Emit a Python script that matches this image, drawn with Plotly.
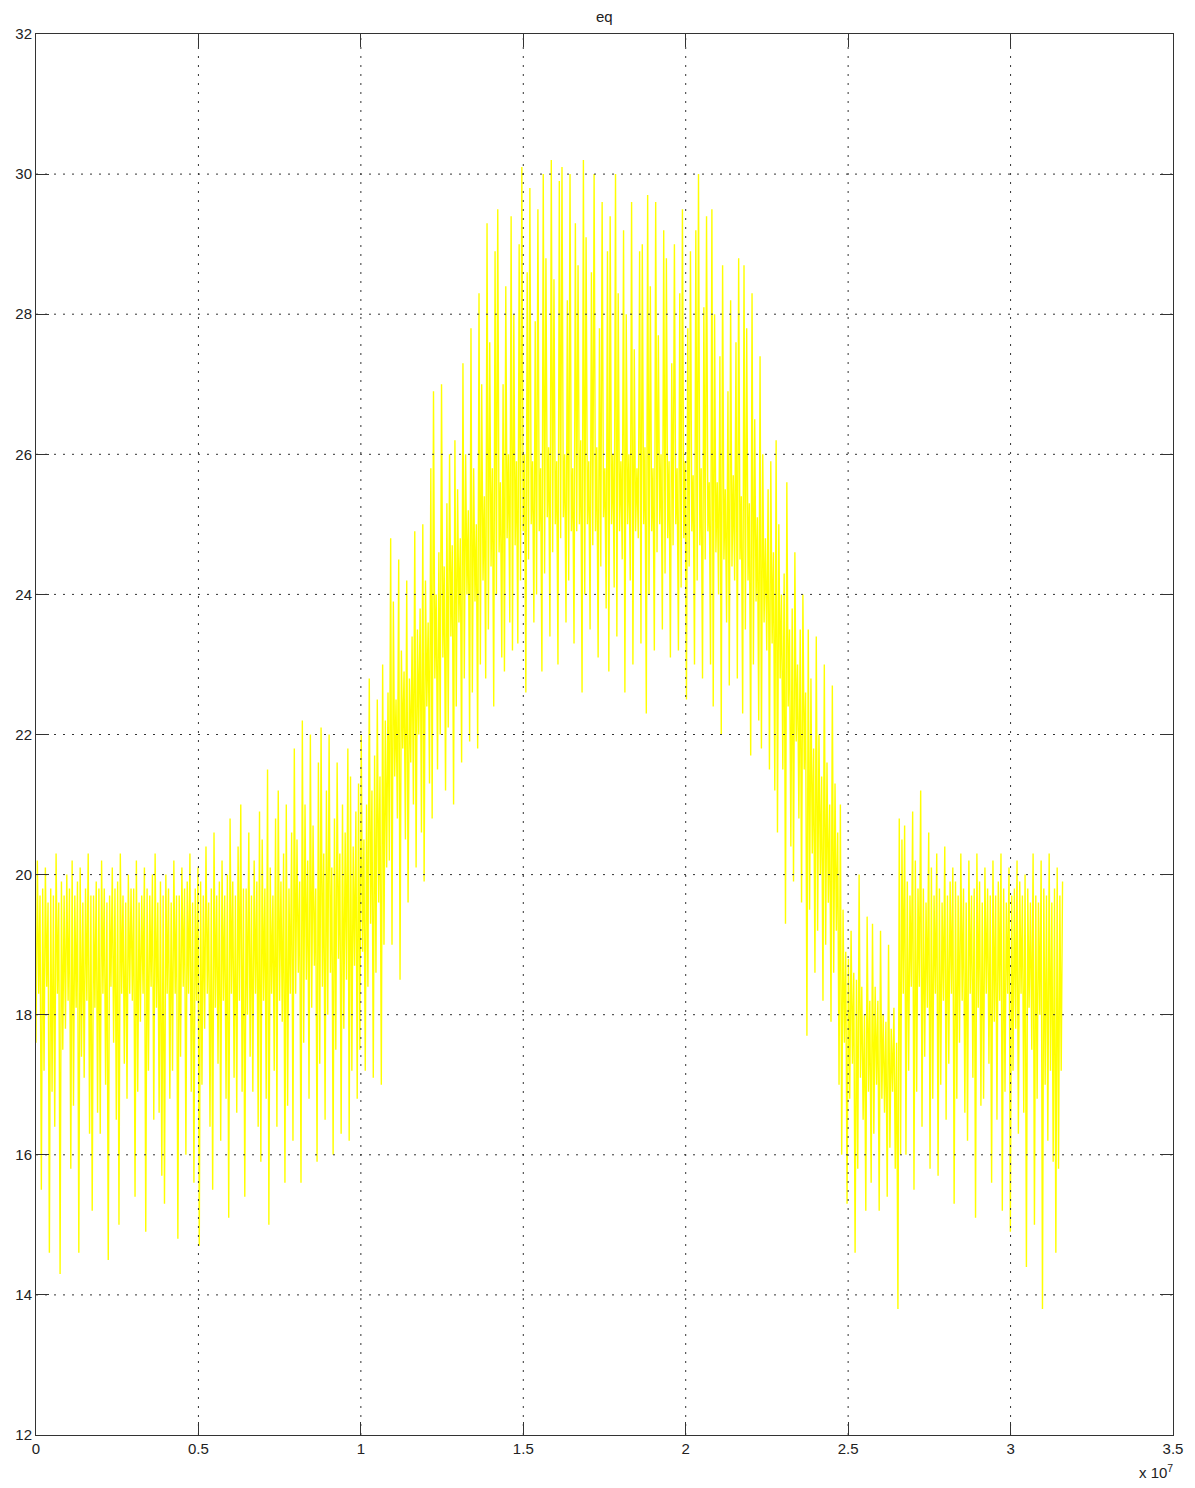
import numpy as np
import plotly.graph_objects as go

# ---- data (eq signal), 32 consecutive blocks of 24 samples ----
t_start = 0.0
t_end = 3.16e7

eq_block_00 = [17.6, 20.2, 18.3, 19.7, 15.5, 19.8, 17.2, 20.1, 18.4, 19.6, 14.6, 19.8, 16.9, 19.7, 16.4, 20.3, 18.3, 19.6, 14.3, 19.9, 17.5, 19.7, 17.8, 20.0]
eq_block_01 = [18.2, 19.8, 15.8, 20.2, 16.7, 19.7, 18.1, 19.9, 14.6, 20.1, 17.4, 19.6, 17.1, 19.8, 18.2, 20.3, 16.3, 19.7, 15.2, 19.7, 18.1, 19.9, 16.6, 19.8]
eq_block_02 = [16.3, 20.2, 18.3, 19.8, 17.0, 19.6, 14.5, 19.7, 18.4, 20.1, 17.6, 19.8, 16.5, 19.9, 15.0, 20.3, 18.3, 19.7, 17.3, 19.6, 16.8, 20.0, 18.3, 19.8]
eq_block_03 = [18.2, 19.8, 15.4, 20.2, 16.9, 19.6, 17.9, 19.7, 18.3, 20.1, 14.9, 19.8, 17.2, 19.7, 18.4, 20.0, 16.5, 20.3, 18.1, 19.6, 16.6, 19.9, 15.7, 19.7]
eq_block_04 = [15.3, 20.0, 18.3, 19.8, 16.8, 19.6, 17.2, 20.2, 18.3, 19.7, 14.8, 19.7, 17.4, 20.1, 18.4, 19.8, 16.0, 19.9, 18.3, 20.3, 16.9, 19.6, 15.6, 19.8]
eq_block_05 = [18.2, 20.1, 14.7, 19.9, 17.0, 19.7, 17.8, 20.4, 18.3, 19.6, 16.4, 19.8, 15.5, 20.6, 18.1, 19.7, 17.3, 19.9, 16.2, 20.2, 18.2, 19.7, 16.8, 20.0]
eq_block_06 = [15.1, 20.8, 18.3, 19.9, 17.1, 19.7, 16.6, 20.4, 18.2, 21.0, 16.9, 19.8, 15.4, 19.8, 18.0, 20.6, 17.4, 19.7, 16.9, 20.2, 18.3, 19.9, 16.4, 20.9]
eq_block_07 = [15.9, 20.5, 18.2, 19.8, 16.8, 21.5, 15.0, 20.1, 18.3, 19.7, 17.2, 20.8, 16.4, 21.2, 18.2, 19.9, 17.9, 20.3, 15.6, 21.0, 16.7, 19.8, 18.3, 20.6]
eq_block_08 = [16.2, 21.8, 18.3, 20.5, 18.6, 19.9, 15.6, 22.2, 17.6, 21.0, 18.5, 20.2, 16.8, 22.0, 18.1, 20.7, 18.7, 19.8, 15.9, 21.6, 17.3, 22.1, 18.4, 20.3]
eq_block_09 = [16.5, 21.2, 18.0, 22.0, 18.6, 20.1, 16.0, 20.8, 17.5, 21.6, 18.8, 20.3, 16.3, 21.0, 17.8, 20.6, 18.5, 21.8, 16.2, 21.4, 17.2, 20.4, 18.7, 20.9]
eq_block_10 = [16.8, 21.3, 17.5, 22.0, 18.9, 20.5, 17.2, 21.0, 18.4, 22.8, 19.3, 21.2, 17.1, 21.7, 18.6, 22.5, 19.6, 21.4, 17.0, 23.0, 19.0, 22.2, 20.1, 22.6]
eq_block_11 = [20.2, 24.8, 19.0, 23.9, 21.4, 22.5, 20.8, 24.5, 18.5, 23.2, 21.8, 22.9, 20.5, 24.2, 19.6, 22.8, 21.6, 23.4, 21.0, 24.9, 20.1, 23.5, 22.0, 23.8]
eq_block_12 = [20.6, 25.0, 19.9, 24.2, 22.4, 23.6, 21.3, 25.8, 20.8, 26.9, 22.8, 24.0, 21.5, 24.6, 22.0, 27.0, 23.1, 24.4, 21.2, 25.3, 22.1, 26.0, 23.4, 24.7]
eq_block_13 = [21.0, 26.2, 22.4, 25.5, 23.6, 24.8, 21.6, 27.3, 22.8, 26.0, 24.0, 25.2, 21.9, 27.8, 22.6, 25.8, 23.9, 25.0, 21.8, 28.3, 23.0, 27.0, 24.2, 25.4]
eq_block_14 = [22.8, 29.3, 23.5, 27.6, 24.4, 25.8, 22.4, 28.9, 24.0, 29.5, 24.6, 25.6, 23.1, 27.0, 22.9, 28.4, 24.8, 26.0, 23.6, 29.4, 23.2, 28.0, 24.7, 25.9]
eq_block_15 = [23.3, 29.0, 24.2, 30.1, 24.9, 26.0, 22.6, 28.6, 24.5, 29.8, 25.0, 25.9, 23.6, 27.9, 24.0, 29.5, 24.9, 25.8, 22.9, 30.0, 24.3, 28.8, 25.1, 26.1]
eq_block_16 = [23.4, 30.2, 24.6, 28.5, 25.0, 25.9, 23.0, 29.9, 24.8, 30.1, 25.1, 26.0, 23.6, 28.2, 24.2, 30.0, 24.9, 25.8, 23.3, 29.3, 24.9, 28.7, 25.0, 26.2]
eq_block_17 = [22.6, 30.2, 24.0, 29.1, 25.0, 25.9, 23.5, 28.6, 24.7, 30.0, 24.9, 26.1, 23.1, 27.8, 24.4, 29.6, 25.1, 25.8, 23.8, 28.9, 22.9, 29.4, 25.0, 26.0]
eq_block_18 = [24.1, 30.0, 23.4, 28.3, 24.9, 25.9, 24.5, 29.2, 22.6, 28.0, 25.0, 26.0, 24.2, 29.6, 23.0, 27.5, 24.9, 25.8, 24.8, 28.9, 23.3, 29.0, 25.0, 26.1]
eq_block_19 = [22.3, 29.7, 24.0, 28.4, 24.9, 25.8, 23.2, 29.6, 24.6, 27.7, 25.0, 26.0, 23.5, 29.2, 24.3, 28.8, 24.8, 25.9, 23.1, 27.3, 24.7, 29.0, 25.0, 25.8]
eq_block_20 = [23.2, 28.3, 24.1, 29.5, 24.8, 25.9, 22.5, 27.8, 24.4, 28.9, 24.9, 25.7, 23.0, 29.2, 24.2, 30.0, 24.7, 25.8, 22.8, 28.1, 24.5, 29.4, 24.9, 25.6]
eq_block_21 = [23.0, 29.5, 22.4, 28.0, 24.6, 25.6, 24.0, 27.4, 22.0, 28.7, 24.5, 25.5, 23.6, 26.9, 22.7, 28.2, 24.4, 25.7, 24.2, 27.6, 22.8, 28.8, 24.5, 25.4]
eq_block_22 = [22.3, 28.7, 23.5, 27.8, 24.2, 25.3, 21.7, 28.3, 23.0, 26.5, 23.9, 25.1, 22.2, 27.4, 21.8, 26.0, 23.6, 24.8, 23.2, 25.5, 21.5, 25.9, 23.3, 24.6]
eq_block_23 = [21.2, 26.2, 20.6, 25.0, 22.8, 24.0, 21.5, 24.3, 19.3, 25.6, 22.4, 23.5, 20.4, 23.8, 19.9, 24.6, 21.9, 23.0, 20.8, 23.5, 19.6, 24.0, 21.5, 22.6]
eq_block_24 = [17.7, 23.5, 19.5, 22.8, 20.3, 21.8, 18.6, 23.4, 19.2, 22.0, 20.0, 21.4, 18.2, 23.0, 19.0, 21.6, 19.6, 21.0, 17.9, 22.7, 18.6, 21.3, 19.2, 20.6]
eq_block_25 = [17.0, 21.0, 16.0, 19.5, 17.6, 18.9, 15.3, 18.8, 16.8, 19.2, 17.3, 18.6, 14.6, 18.5, 15.8, 20.0, 17.1, 18.4, 16.5, 18.0, 15.2, 19.4, 16.9, 18.2]
eq_block_26 = [15.6, 19.3, 16.3, 18.4, 17.0, 18.2, 15.2, 19.2, 16.8, 18.0, 16.6, 17.9, 15.4, 19.0, 16.1, 17.8, 16.9, 18.1, 15.8, 17.6, 13.8, 20.8, 16.0, 20.5]
eq_block_27 = [18.3, 20.7, 16.0, 19.9, 17.2, 19.7, 18.4, 20.9, 15.5, 20.2, 16.9, 19.8, 18.4, 21.2, 16.4, 19.8, 17.4, 19.6, 18.1, 20.6, 15.8, 20.1, 16.8, 19.7]
eq_block_28 = [18.3, 20.3, 15.7, 19.8, 17.0, 19.6, 18.2, 20.4, 16.5, 19.7, 17.3, 19.9, 18.3, 20.1, 15.3, 19.9, 16.8, 19.7, 17.6, 20.3, 18.2, 19.8, 16.6, 19.6]
eq_block_29 = [16.2, 20.2, 18.3, 19.7, 17.1, 19.8, 15.1, 20.3, 18.1, 19.9, 16.7, 19.6, 16.8, 20.1, 18.3, 19.8, 17.3, 19.7, 15.6, 20.2, 17.9, 19.7, 16.5, 19.9]
eq_block_30 = [18.2, 20.3, 15.2, 19.8, 16.9, 19.6, 18.3, 20.1, 14.9, 19.7, 17.2, 19.8, 17.8, 20.2, 16.3, 19.9, 18.3, 19.7, 16.6, 20.0, 14.4, 19.8, 18.1, 19.6]
eq_block_31 = [17.5, 20.3, 15.0, 19.7, 16.8, 19.6, 18.0, 20.2, 13.8, 19.8, 17.0, 19.7, 16.2, 20.3, 17.2, 19.6, 15.9, 19.8, 14.6, 20.1, 15.8, 19.7, 17.2, 19.9]

x_tick_vals = [0, 0.5e7, 1.0e7, 1.5e7, 2.0e7, 2.5e7, 3.0e7, 3.5e7]
x_tick_text = ["0", "0.5", "1", "1.5", "2", "2.5", "3", "3.5"]
y_tick_vals = [12, 14, 16, 18, 20, 22, 24, 26, 28, 30, 32]
y_tick_text = [str(v) for v in y_tick_vals]
title_text = "eq"
exponent_text = "x 10<sup>7</sup>"

blocks = [eq_block_00, eq_block_01, eq_block_02, eq_block_03, eq_block_04, eq_block_05,
          eq_block_06, eq_block_07, eq_block_08, eq_block_09, eq_block_10, eq_block_11,
          eq_block_12, eq_block_13, eq_block_14, eq_block_15, eq_block_16, eq_block_17,
          eq_block_18, eq_block_19, eq_block_20, eq_block_21, eq_block_22, eq_block_23,
          eq_block_24, eq_block_25, eq_block_26, eq_block_27, eq_block_28, eq_block_29,
          eq_block_30, eq_block_31]
eq = [v for b in blocks for v in b]
t = np.linspace(t_start, t_end, len(eq))

FONT = "Liberation Sans, Arial, Helvetica, sans-serif"
TXT = "#222222"
AX = "#333333"
GRID = "#333333"

fig = go.Figure()
fig.add_trace(go.Scatter(x=t, y=eq, mode="lines",
                         line=dict(color="#ffff00", width=1.4), showlegend=False,
                         hoverinfo="skip"))

# dotted grid drawn above the data (as in the reference)
shapes = []
for xv in x_tick_vals[1:-1]:
    shapes.append(dict(type="line", xref="x", yref="paper", x0=xv, x1=xv, y0=0, y1=1,
                       line=dict(color=GRID, width=1, dash="2px,7px"), layer="above"))
for yv in y_tick_vals[1:-1]:
    shapes.append(dict(type="line", xref="paper", yref="y", x0=0, x1=1, y0=yv, y1=yv,
                       line=dict(color=GRID, width=1, dash="2px,7px"), layer="above"))

fig.update_layout(
    width=1195, height=1488,
    margin=dict(l=36, r=19, t=34, b=53),
    paper_bgcolor="white", plot_bgcolor="white",
    font=dict(family=FONT, size=15, color=TXT),
    shapes=shapes,
    annotations=[
        dict(text=title_text, xref="paper", yref="paper", x=0.5, y=1, xanchor="center",
             yanchor="bottom", yshift=7, showarrow=False, font=dict(family=FONT, size=15, color=TXT)),
        dict(text=exponent_text, xref="paper", yref="paper", x=1, y=0, xanchor="right",
             yanchor="top", yshift=-25, xshift=2, showarrow=False, font=dict(family=FONT, size=15, color=TXT)),
    ],
)
fig.update_xaxes(range=[0, 3.5e7], tickvals=x_tick_vals, ticktext=x_tick_text,
                 showgrid=False, zeroline=False, showline=True, linecolor=AX, linewidth=1,
                 mirror="allticks", ticks="inside", ticklen=13, tickcolor=AX, tickwidth=1,
                 layer="above traces", tickfont=dict(family=FONT, size=15, color=TXT))
fig.update_yaxes(range=[12, 32], tickvals=y_tick_vals, ticktext=y_tick_text,
                 showgrid=False, zeroline=False, showline=True, linecolor=AX, linewidth=1,
                 mirror="allticks", ticks="inside", ticklen=13, tickcolor=AX, tickwidth=1,
                 layer="above traces", tickfont=dict(family=FONT, size=15, color=TXT))

fig.write_html("out.html")
